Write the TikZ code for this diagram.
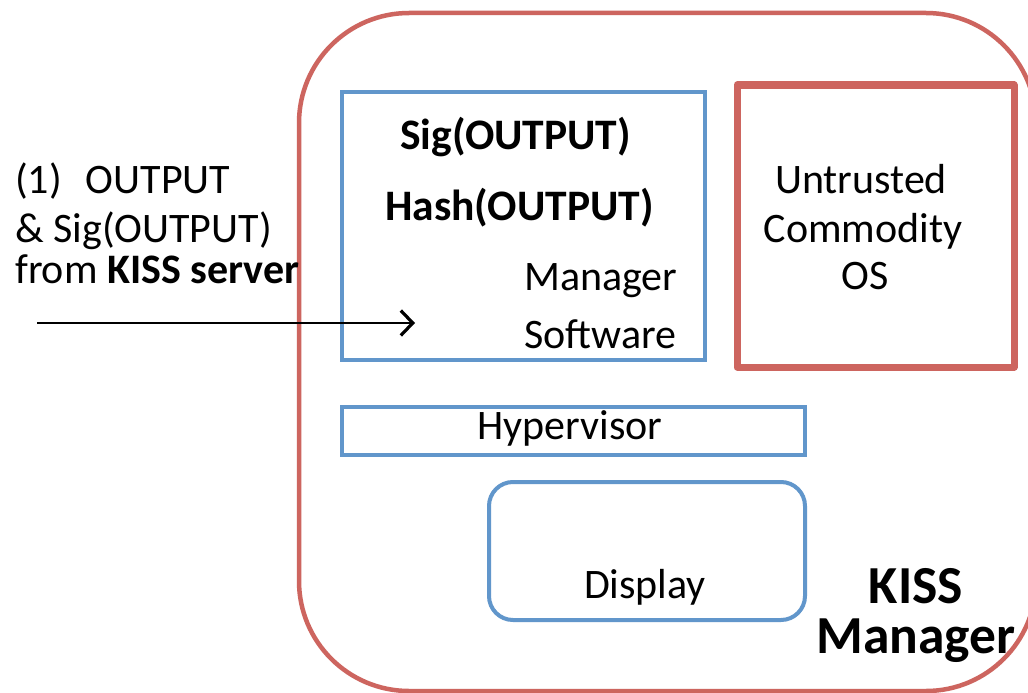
\documentclass[tikz,border=0pt]{standalone}
\usepackage{fontspec}
\setmainfont{Carlito}
\usetikzlibrary{arrows.meta}
\definecolor{kissred}{HTML}{CD655F}
\definecolor{kissblue}{HTML}{6196CB}
\tikzset{
  label/.style={inner sep=0pt, font=\fontsize{42}{42}\selectfont},
  boldlabel/.style={label, font=\fontsize{43.5}{43.5}\selectfont\bfseries},
  titlelabel/.style={label, font=\fontsize{53.5}{53.5}\selectfont\bfseries},
  bluebox/.style={draw=kissblue, line width=4pt},
  redbox/.style={draw=kissred, line width=7pt, line join=round},
  flow/.style={draw=black, line width=2.4pt, -{Straight Barb[length=12pt,width=25pt,line width=3.2pt]}}
}
\begin{document}
\begin{tikzpicture}[x=1pt,y=-1pt]
\useasboundingbox (0,0) rectangle (1028,693);
\clip (0,0) rectangle (1028,693);
\fill[white] (0,0) rectangle (1028,693);

% KISS Manager outline
\draw[kissred, line width=4.5pt, rounded corners=110pt] (299,13) rectangle (1036,691);

% inner components
\draw[bluebox] (342,92) rectangle (705,360);
\draw[redbox] (737,85) rectangle (1014,367);
\draw[bluebox] (342,407) rectangle (805,455);
\draw[bluebox, rounded corners=24pt] (489,482) rectangle (805,620);

% manager software box text
\node[boldlabel, anchor=base west] (sig) at (400,149) {Sig(OUTPUT)};
\node[boldlabel, anchor=base west] (hash) at (385,220) {Hash(OUTPUT)};
\node[label, anchor=base west] (mgr) at (524,290) {Manager};
\node[label, anchor=base west] (sw) at (524,348) {Software};

% untrusted OS text
\node[label, anchor=base] (untr) at (861,193) {Untrusted};
\node[label, anchor=base] (comm) at (863,242) {Commodity};
\node[label, anchor=base] (os) at (865,289) {OS};

\node[label, anchor=base] (hyp) at (570,439) {Hypervisor};
\node[label, anchor=base] (disp) at (645,598) {Display};

% component title
\node[titlelabel, anchor=base] (kiss) at (916,603) {KISS};
\node[titlelabel, anchor=base] (kmgr) at (916,653) {Manager};

% incoming message
\node[label, anchor=base west] (step) at (15,193) {(1)\hspace{24pt}OUTPUT};
\node[label, anchor=base west] (msg) at (15,242) {\& Sig(OUTPUT)};
\node[label, anchor=base west] (src) at (15,283) {from \textbf{KISS server}};

\coordinate (in) at (37,323);
\coordinate (inend) at (415,323);
\draw[flow] (in) -- (inend);
\end{tikzpicture}
\end{document}
